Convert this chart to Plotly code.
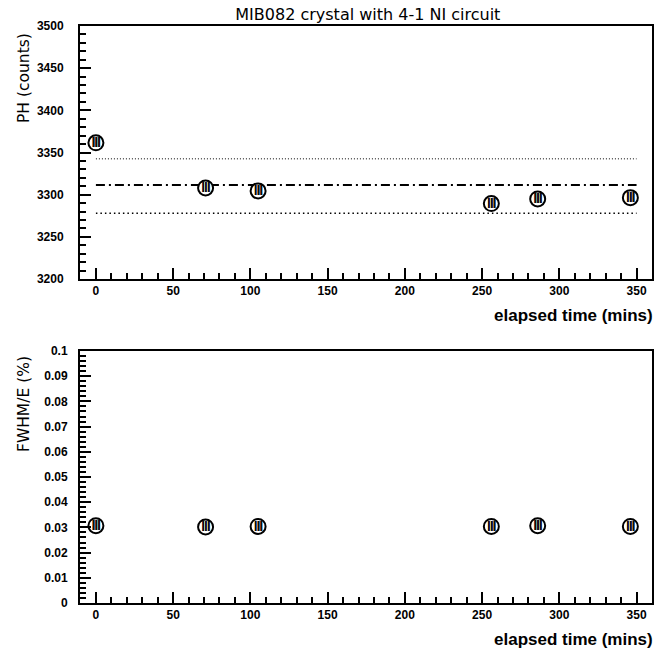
import plotly.graph_objects as go
from plotly.subplots import make_subplots

elapsed_mins = [0, 71, 105, 256, 286, 346]
ph_counts = [3361.5, 3308, 3304.5, 3289.5, 3295, 3296.5]
fwhm_pct = [0.0307, 0.0302, 0.0304, 0.0304, 0.0307, 0.0304]

ph_line_x = [0, 350]
ph_mean = 3311.5
ph_upper = 3342.5
ph_lower = 3278

fig = make_subplots(rows=2, cols=1, vertical_spacing=0.0)

def add_markers(x, y, row):
    fig.add_trace(go.Scatter(x=x, y=y, mode="markers+text", showlegend=False, hoverinfo="skip",
                             text=["|||"] * len(x), textposition="middle center",
                             textfont=dict(family="Liberation Sans, Arial, sans-serif", size=10,
                                           color="black", weight="bold",
                                           shadow="0.7px 0px 0px black"),
                             marker=dict(symbol="circle", size=15, color="white",
                                         line=dict(color="black", width=2))), row=row, col=1)

fig.add_trace(go.Scatter(x=ph_line_x, y=[ph_upper, ph_upper], mode="lines", showlegend=False,
                         hoverinfo="skip", line=dict(color="black", width=1, dash="1px,2px")), row=1, col=1)
fig.add_trace(go.Scatter(x=ph_line_x, y=[ph_mean, ph_mean], mode="lines", showlegend=False,
                         hoverinfo="skip", line=dict(color="black", width=2, dash="9px,4px,2px,4px")), row=1, col=1)
fig.add_trace(go.Scatter(x=ph_line_x, y=[ph_lower, ph_lower], mode="lines", showlegend=False,
                         hoverinfo="skip", line=dict(color="black", width=1.5, dash="1.5px,3px")), row=1, col=1)
add_markers(elapsed_mins, ph_counts, 1)
add_markers(elapsed_mins, fwhm_pct, 2)

tickfont = dict(family="Liberation Sans, Arial, sans-serif", size=12, color="black", weight="bold")
xaxis_common = dict(range=[-10.3, 360], tickvals=[0, 50, 100, 150, 200, 250, 300, 350],
                    ticks="inside", ticklen=11, tickwidth=2, tickcolor="black",
                    minor=dict(dtick=10, ticks="inside", ticklen=6, tickwidth=2, tickcolor="black"),
                    showgrid=False, zeroline=False, showline=True, linecolor="black", linewidth=2,
                    mirror=True, tickfont=tickfont, ticklabelstandoff=0)
fig.update_xaxes(**xaxis_common, domain=[0, 1])
fig.update_yaxes(range=[3200, 3500], tickvals=[3200, 3250, 3300, 3350, 3400, 3450, 3500],
                 ticks="inside", ticklen=11, tickwidth=2, tickcolor="black",
                 minor=dict(dtick=10, ticks="inside", ticklen=6, tickwidth=2, tickcolor="black"),
                 showgrid=False, zeroline=False, showline=True, linecolor="black", linewidth=2,
                 mirror=True, tickfont=tickfont, ticklabelstandoff=12, domain=[0.5615, 1.0],
                 row=1, col=1)
fig.update_yaxes(range=[0, 0.1], tickvals=[0, 0.01, 0.02, 0.03, 0.04, 0.05, 0.06, 0.07, 0.08, 0.09, 0.1],
                 ticktext=["0", "0.01", "0.02", "0.03", "0.04", "0.05", "0.06", "0.07", "0.08", "0.09", "0.1"],
                 ticks="inside", ticklen=11, tickwidth=2, tickcolor="black",
                 minor=dict(dtick=0.002, ticks="inside", ticklen=6, tickwidth=2, tickcolor="black"),
                 showgrid=False, zeroline=False, showline=True, linecolor="black", linewidth=2,
                 mirror=True, tickfont=tickfont, ticklabelstandoff=8, domain=[0.0, 0.4367],
                 row=2, col=1)

ann_font_b = dict(family="Liberation Sans, Arial, sans-serif", size=17, color="black", weight="bold")
ann_font_n = dict(family="DejaVu Sans, sans-serif", size=15.5, color="black")
fig.update_layout(
    width=657, height=650,
    margin=dict(l=80, r=3, t=26, b=47),
    paper_bgcolor="white", plot_bgcolor="white",
    hovermode=False,
    title=dict(text="MIB082 crystal with 4-1 NI circuit", x=0.5599, xanchor="center",
               y=0.978, yanchor="middle",
               font=dict(family="DejaVu Sans, sans-serif", size=16, color="black")),
    annotations=[
        dict(text="elapsed time (mins)", xref="paper", yref="paper", x=1.0, y=0.5615,
             xanchor="right", yanchor="top", yshift=-25, xshift=3, showarrow=False, font=ann_font_b),
        dict(text="elapsed time (mins)", xref="paper", yref="paper", x=1.0, y=0.0,
             xanchor="right", yanchor="top", yshift=-25, xshift=3, showarrow=False, font=ann_font_b),
        dict(text="PH (counts)", xref="paper", yref="paper", x=0, y=1.0, xshift=-56,
             xanchor="center", yanchor="top", yshift=-5, textangle=-90, showarrow=False, font=ann_font_n),
        dict(text="FWHM/E (%)", xref="paper", yref="paper", x=0, y=0.4367, xshift=-56,
             xanchor="center", yanchor="top", yshift=-3, textangle=-90, showarrow=False, font=ann_font_n),
    ],
)

fig.write_html("out.html", config={"displayModeBar": False},
               post_script="document.body.style.margin='0';")
